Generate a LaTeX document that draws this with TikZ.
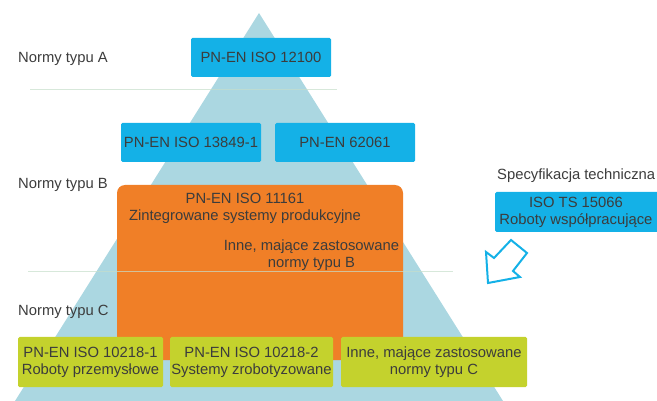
\documentclass[tikz,border=0pt]{standalone}
\usepackage{fontspec}
\setmainfont{Liberation Sans}
\usepackage{tikz}
\usetikzlibrary{arrows}
\definecolor{piramida}{HTML}{ABD7E1}
\definecolor{niebieski}{HTML}{14B1E7}
\definecolor{pomarancz}{HTML}{F07F27}
\definecolor{zielony}{HTML}{C4D22D}
\definecolor{tekst}{HTML}{3C3C3C}
\definecolor{linia}{HTML}{C6DECB}
\tikzstyle{nrm_a} = [rectangle, fill=niebieski, text=tekst, align=center, inner sep=0pt, rounded corners=1.5pt, minimum width=140pt, minimum height=39pt]
\tikzstyle{nrm_b} = [rectangle, fill=pomarancz, inner sep=0pt, rounded corners=8pt, minimum width=286pt, minimum height=175pt]
\tikzstyle{nrm_c} = [rectangle, fill=zielony, text=tekst, align=center, inner sep=0pt, rounded corners=1.5pt, minimum height=50pt]
\tikzstyle{nrm_t} = [text=tekst, align=center, inner sep=0pt]
\tikzstyle{nrm_l} = [text=tekst, anchor=west, inner sep=0pt]

\begin{document}
\begin{tikzpicture}[x=1pt,y=-1pt,font=\fontsize{14.8}{17}\selectfont]
\useasboundingbox (0,0) rectangle (657,401);
\begin{scope}
\clip (0,0) rectangle (657,401);
% piramida
\fill [piramida] (259,13) -- (15,401) -- (503,401) -- cycle;
% typ A
\node [nrm_a] (iso12100) at (261,57.5) {PN-EN ISO 12100};
% typ B
\node [nrm_a] (iso13849) at (191,142.5) {PN-EN ISO 13849-1};
\node [nrm_a] (en62061) at (345,142.5) {PN-EN 62061};
\node [nrm_b] (iso11161) at (260,272.5) {};
\node [nrm_t] (iso11161t) at (245,208.5) {PN-EN ISO 11161\\Zintegrowane systemy produkcyjne};
\node [nrm_t] (inneB) at (311.5,255.5) {Inne, mające zastosowane\\normy typu B};
% typ C
\node [nrm_c, minimum width=145pt] (iso10218a) at (90.5,362) {PN-EN ISO 10218-1\\Roboty przemysłowe};
\node [nrm_c, minimum width=163pt] (iso10218b) at (251.5,362) {PN-EN ISO 10218-2\\Systemy zrobotyzowane};
\node [nrm_c, minimum width=186pt] (inneC) at (434,362) {Inne, mające zastosowane\\normy typu C};
% specyfikacja
\node [nrm_l] (spec) at (497,175.5) {Specyfikacja techniczna};
\node [nrm_a, minimum width=166pt, minimum height=40pt] (iso15066) at (578,212) {};
\node [nrm_t] (iso15066t) at (576,212) {ISO TS 15066\\Roboty współpracujące};
\draw [niebieski, line width=2pt, line join=miter]
  (488,283) -- (486,252) -- (494,258) -- (511,240) -- (527,253)
  -- (513,271) -- (520,277) -- cycle;
% linie
\draw [linia, line width=1pt, opacity=.7] (30,90) -- (337,90);
\draw [linia, line width=1pt, opacity=.7] (28,272) -- (453,272);
% opisy
\node [nrm_l] (typA) at (18,59) {Normy typu A};
\node [nrm_l] (typB) at (18,185) {Normy typu B};
\node [nrm_l] (typC) at (18,312) {Normy typu C};
\end{scope}
\end{tikzpicture}
\end{document}
